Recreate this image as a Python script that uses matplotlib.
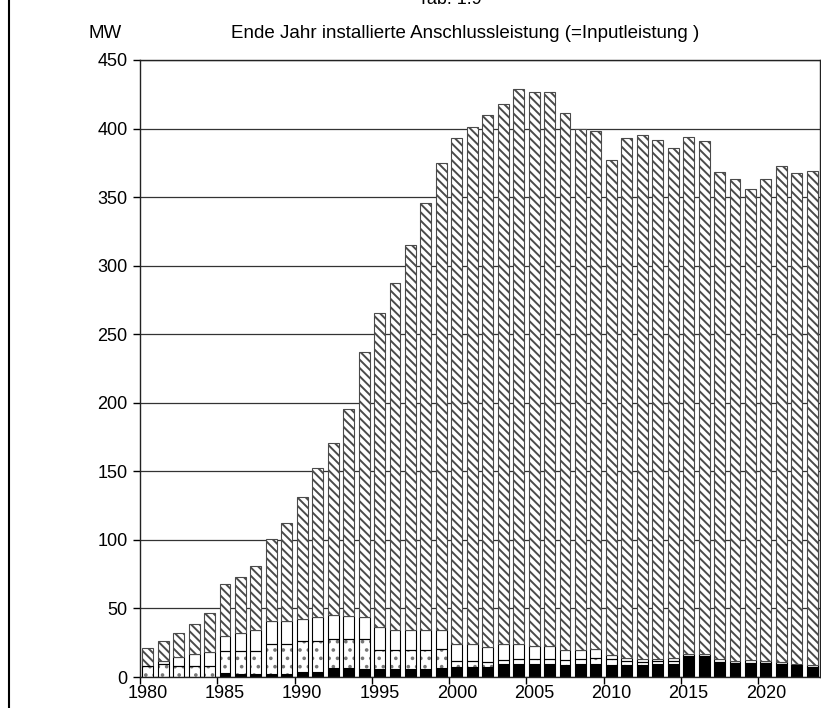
import numpy as np
import matplotlib.pyplot as plt
from matplotlib.lines import Line2D

plt.rcParams['font.family'] = ['Liberation Sans', 'DejaVu Sans']
plt.rcParams['hatch.linewidth'] = 1.4

years = list(range(1980, 2024))

# MW per segment, bottom to top
black = [0, 0, 0, 0, 0, 2.7, 2, 2, 2, 2.5,
         3.9, 4, 6.6, 6.6, 6, 6, 6, 6, 6, 6.8,
         7, 7, 7, 9.5, 9.5, 9.5, 9.5, 8.8, 9.5, 9.5,
         8.5, 8.8, 8.5, 9.5, 9.5, 14.8, 14.8, 10.7, 10, 10,
         9.5, 9.5, 8.5, 7.3]
dotted = [8.2, 9.7, 8.2, 8.2, 8.2, 16.3, 17, 17, 21.8, 21.5,
          22.4, 22, 21.1, 21.1, 21.7, 14, 14, 14, 14, 13.6,
          4.4, 4.4, 4, 2.9, 3.5, 3.5, 3.5, 3.6, 3.5, 4.3,
          4.4, 3.1, 2.7, 2.4, 2.4, 0.4, 0.4, 0.4, 0.4, 0.4,
          0.4, 0.3, 0.3, 0.3]
white = [0, 2, 6.4, 8.6, 10.3, 11, 13, 15, 16.8, 16.6,
         15.7, 17.5, 17.3, 16.6, 15.8, 16.2, 14.3, 14.3, 14.3, 13.6,
         12.4, 12.4, 10.7, 11.4, 10.8, 9.4, 9.4, 7.3, 6.7, 6.4,
         2.9, 2.2, 2.2, 1.1, 2.1, 1.3, 1.5, 1.8, 1.5, 1.8,
         1.8, 0.9, 0.9, 1.2]
total = [21, 26, 32, 38.6, 47, 68, 73, 81, 101, 112.5,
         131, 152.7, 170.7, 195.5, 237, 265.5, 287, 315, 345.7, 375,
         393, 401, 410, 418, 429, 426.5, 427, 411, 400, 398.5,
         377, 393, 395, 391.5, 386, 394, 390.7, 368, 363, 356,
         363, 373, 367.5, 369]

black = np.array(black)
dotted = np.array(dotted)
white = np.array(white)
total = np.array(total)
hatched = total - black - dotted - white

fig = plt.figure(figsize=(8.21, 7.08), dpi=100)
ax = fig.add_axes([140 / 821, 31 / 708, 680 / 821, 617 / 708])

x = np.arange(len(years))
w = 0.71
ax.bar(x, black, w, color='black', edgecolor='black', linewidth=0.8, zorder=2)
dots = ax.bar(x, dotted, w, bottom=black, color='white', edgecolor='#777777',
              hatch='..', linewidth=0, zorder=2)
ax.bar(x, dotted, w, bottom=black, color='none', edgecolor='black',
       linewidth=0.8, zorder=2.1)
ax.bar(x, white, w, bottom=black + dotted, color='white', edgecolor='black',
       linewidth=0.8, zorder=2)
ax.bar(x, hatched, w, bottom=black + dotted + white, color='white',
       edgecolor='#4a4a4a', hatch='\\\\\\\\', linewidth=0.8, zorder=2)

ax.set_xlim(-0.5, len(years) - 0.5)
ax.set_ylim(0, 450)
ax.set_yticks(range(0, 451, 50))
ax.yaxis.grid(True, color='#333333', linewidth=0.9)
ax.set_axisbelow(True)

# ticks at category boundaries, labels at category centres
ax.set_xticks(np.arange(-0.5, len(years), 5))
ax.set_xticklabels([])
ax.set_xticks(np.arange(0, len(years), 5), minor=True)
ax.set_xticklabels([str(years[i]) for i in range(0, len(years), 5)], minor=True)
ax.tick_params(axis='x', which='minor', length=0, pad=6, labelsize=13)
ax.tick_params(axis='x', which='major', length=5, direction='out', width=1)
ax.tick_params(axis='y', length=5, direction='out', width=1, labelsize=13, pad=4)

for s in ax.spines.values():
    s.set_color('#222222')
    s.set_linewidth(1.0)

fig.text(105 / 821, 1 - 33 / 708, 'MW', ha='center', va='center', fontsize=13.5)
fig.text(465 / 821, 1 - 33 / 708,
         'Ende Jahr installierte Anschlussleistung (=Inputleistung )',
         ha='center', va='center', fontsize=13.5)
fig.text(450 / 821, 1 - 4 / 708, 'Tab. 1.9', ha='center', va='baseline', fontsize=13)

fig.add_artist(Line2D([8.5 / 821, 8.5 / 821], [0, 1], color='black', linewidth=1.5,
                      transform=fig.transFigure))

plt.savefig('out.png', dpi=100)
